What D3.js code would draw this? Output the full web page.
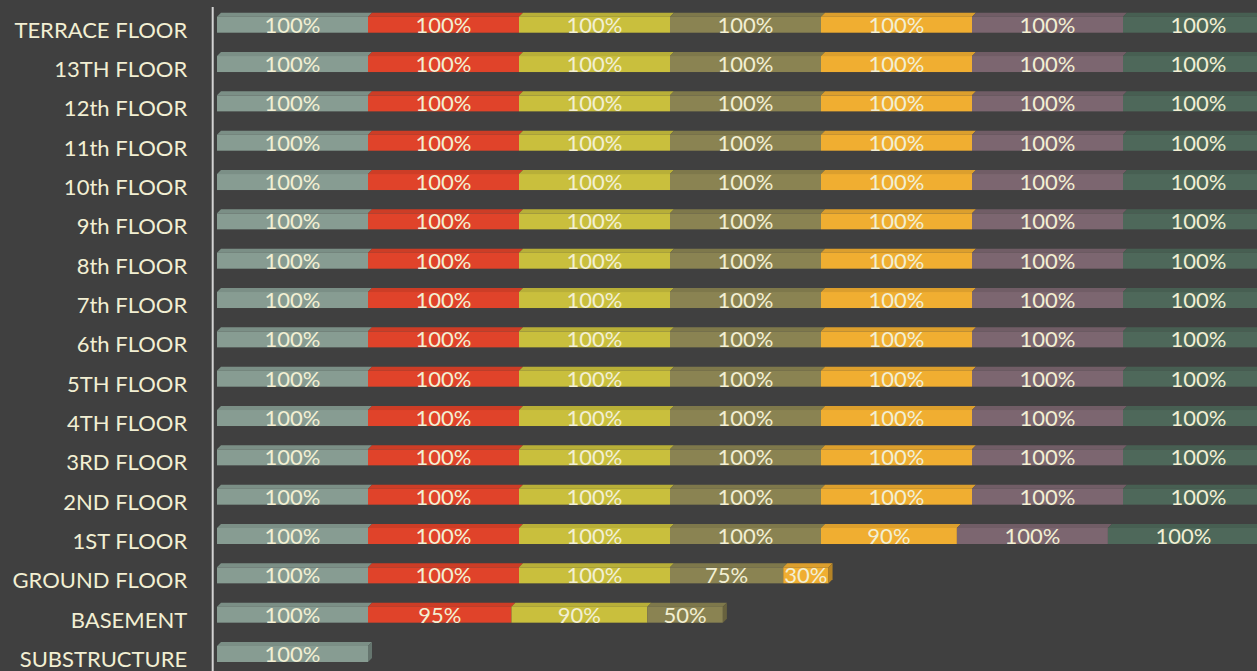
<!DOCTYPE html>
<html>
<head>
<meta charset="utf-8">
<script src="https://cdn.jsdelivr.net/npm/d3@7"></script>
<style>
  html, body { margin: 0; padding: 0; background: #404040; }
  svg { display: block; }
</style>
</head>
<body>
<svg id="chart" width="1257" height="671"></svg>
<script>
const categories = ["TERRACE FLOOR","13TH FLOOR","12th FLOOR","11th FLOOR","10th FLOOR","9th FLOOR","8th FLOOR","7th FLOOR","6th FLOOR","5TH FLOOR","4TH FLOOR","3RD FLOOR","2ND FLOOR","1ST FLOOR","GROUND FLOOR","BASEMENT","SUBSTRUCTURE"];
const seriesNames = ["S1","S2","S3","S4","S5","S6","S7"];
const s1 = [100,100,100,100,100,100,100,100,100,100,100,100,100,100,100,100,100];
const s2 = [100,100,100,100,100,100,100,100,100,100,100,100,100,100,100,95,0];
const s3 = [100,100,100,100,100,100,100,100,100,100,100,100,100,100,100,90,0];
const s4 = [100,100,100,100,100,100,100,100,100,100,100,100,100,100,75,50,0];
const s5 = [100,100,100,100,100,100,100,100,100,100,100,100,100,90,30,0,0];
const s6 = [100,100,100,100,100,100,100,100,100,100,100,100,100,100,0,0,0];
const s7 = [100,100,100,100,100,100,100,100,100,100,100,100,100,100,0,0,0];
const seriesValues = [s1,s2,s3,s4,s5,s6,s7];
const colors = ["#879c92","#e0432a","#c9bf3d","#8a8352","#f0ae31","#7c6670","#4e685a"];

const W = 1257, H = 671;
const svg = d3.select("#chart");
const rows = categories.map((c,i) => {
  const r = {cat: c};
  seriesNames.forEach((s,j) => r[s] = seriesValues[j][i]);
  return r;
});
const stacked = d3.stack().keys(seriesNames)(rows);

const x = d3.scaleLinear().domain([0, 700]).range([217, 217 + 1057]);
const y = d3.scaleBand().domain(categories).range([16.7, 662]).paddingInner(0.593).paddingOuter(0);
const bh = y.bandwidth();
const d = 4; // 3D depth

const fontFam = "Lato, 'Open Sans', sans-serif";
const textColor = "#f2efd3";

const g = svg.append("g");
stacked.forEach((layer, j) => {
  const col = d3.color(colors[j]);
  const gl = g.append("g");
  layer.forEach((seg, i) => {
    const v = seg[1] - seg[0];
    if (v <= 0) return;
    const x0 = x(seg[0]), x1 = x(seg[1]);
    const yt = y(categories[i]);
    // top face
    gl.append("path")
      .attr("d", `M${x0},${yt}L${x0+d},${yt-d}L${x1+d},${yt-d}L${x1},${yt}Z`)
      .attr("fill", col.darker(0.25));
    // front face
    gl.append("rect").attr("x", x0).attr("y", yt).attr("width", x1 - x0).attr("height", bh)
      .attr("fill", col);
    // side face only at the end of the stack
    const isLast = stacked.slice(j+1).every(l => (l[i][1]-l[i][0]) <= 0);
    if (isLast) {
      gl.append("path")
        .attr("d", `M${x1},${yt}L${x1+d},${yt-d}L${x1+d},${yt-d+bh}L${x1},${yt+bh}Z`)
        .attr("fill", col.darker(0.8));
    }
  });
});

// value labels
stacked.forEach((layer, j) => {
  layer.forEach((seg, i) => {
    const v = seg[1] - seg[0];
    if (v <= 0) return;
    g.append("text")
      .attr("x", (x(seg[0]) + x(seg[1])) / 2)
      .attr("y", y(categories[i]) + bh/2 + 8)
      .attr("text-anchor", "middle")
      .attr("font-family", fontFam)
      .attr("font-size", 22)
      .attr("fill", textColor)
      .text(v + "%");
  });
});

// category axis
const axis = d3.axisLeft(y).tickSize(0).tickPadding(25.5);
const ag = svg.append("g").attr("transform", "translate(212.7,0)").call(axis);
ag.select(".domain").remove();
ag.selectAll("text")
  .attr("font-family", fontFam)
  .attr("font-size", 22)
  .attr("fill", textColor)
  .attr("dy", null)
  .attr("y", 13);
svg.append("line").attr("x1", 212.7).attr("x2", 212.7).attr("y1", 7).attr("y2", H)
  .attr("stroke", "#d4d4d4").attr("stroke-width", 2);
</script>
</body>
</html>
